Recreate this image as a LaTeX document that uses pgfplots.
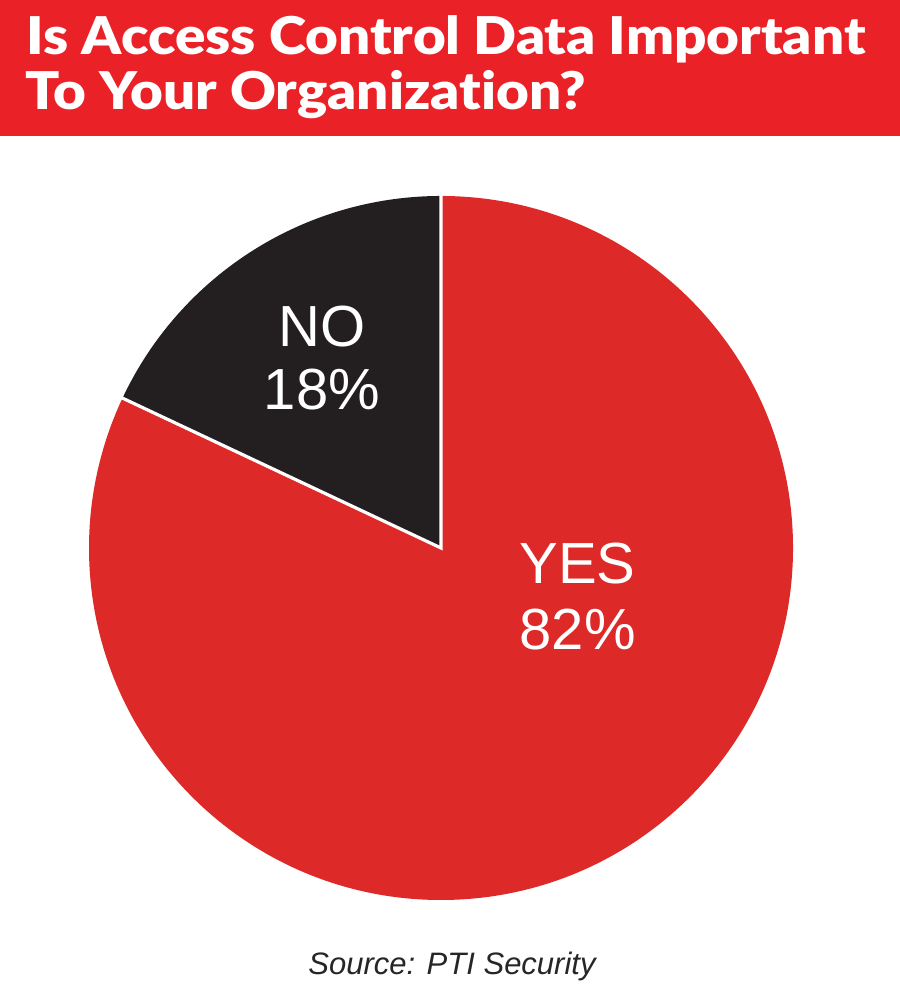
\documentclass[border=0pt]{standalone}
\usepackage{pgfplots}
\pgfplotsset{compat=1.18}
\usepackage{pgfplotstable}
\usepackage{fontspec}
\setmainfont{Liberation Sans}
\newfontfamily\titlefont{Lato Black}[Ligatures=NoCommon]
\definecolor{bannerred}{HTML}{EA2127}
\definecolor{piered}{HTML}{DD2A28}
\definecolor{pieblack}{HTML}{231F20}
\pgfplotstableread{
label value
NO 18
YES 82
}\piedata
\newlength\tw
\begin{document}
\settowidth\tw{\titlefont\fontsize{26bp}{26bp}\selectfont Is Access Control Data Important}%
\pgfmathsetmacro\sx{419.5bp/\tw}%
\pgfplotstablegetelem{0}{value}\of\piedata
\pgfmathsetmacro\vno{\pgfplotsretval}%
\pgfmathsetmacro\endno{90+3.6*\vno}%
\pgfmathsetmacro\ex{1.01*cos(\endno)}%
\pgfmathsetmacro\ey{1.01*sin(\endno)}%
\begin{tikzpicture}
\begin{scope}[x=0.5bp,y=0.5bp]
\useasboundingbox (0,0) rectangle (900,988);
\fill[white] (0,0) rectangle (900,988);
\fill[bannerred] (0,852) rectangle (900,988);
\node[anchor=base west, inner sep=0pt, text=white] at (26,933)
  {\scalebox{\sx}[1]{\titlefont\fontsize{26bp}{26bp}\selectfont Is Access Control Data Important}};
\node[anchor=base west, inner sep=0pt, text=white] at (25,878)
  {\scalebox{\sx}[1]{\titlefont\fontsize{26bp}{26bp}\selectfont To Your Organization?}};
\node[font=\itshape\fontsize{15.5bp}{15.5bp}\selectfont, text=black!85] at (452,22) {Source: PTI Security};
\end{scope}
\begin{axis}[
  at={(220.5bp,220bp)}, anchor=center,
  width=352bp, height=352bp, scale only axis,
  xmin=-1, xmax=1, ymin=-1, ymax=1,
  hide axis, clip=false]
\fill[piered] (axis cs:0,0) -- (axis cs:0,1) arc[start angle=90, end angle=-270+3.6*\vno, radius=176bp] -- cycle;
\fill[pieblack] (axis cs:0,0) -- (axis cs:0,1) arc[start angle=90, end angle=\endno, radius=176bp] -- cycle;
\draw[white, line width=1.6bp] (axis cs:0,1.01) -- (axis cs:0,0) -- (axis cs:\ex,\ey);
\node[text=white, font=\fontsize{29bp}{29bp}\selectfont] at (axis cs:-0.338,0.63) {NO};
\node[text=white, font=\fontsize{29bp}{29bp}\selectfont] at (axis cs:-0.338,0.449) {18\%};
\node[text=white, font=\fontsize{29bp}{29bp}\selectfont] at (axis cs:0.388,-0.043) {YES};
\node[text=white, font=\fontsize{29bp}{29bp}\selectfont] at (axis cs:0.388,-0.232) {82\%};
\end{axis}
\end{tikzpicture}
\end{document}
